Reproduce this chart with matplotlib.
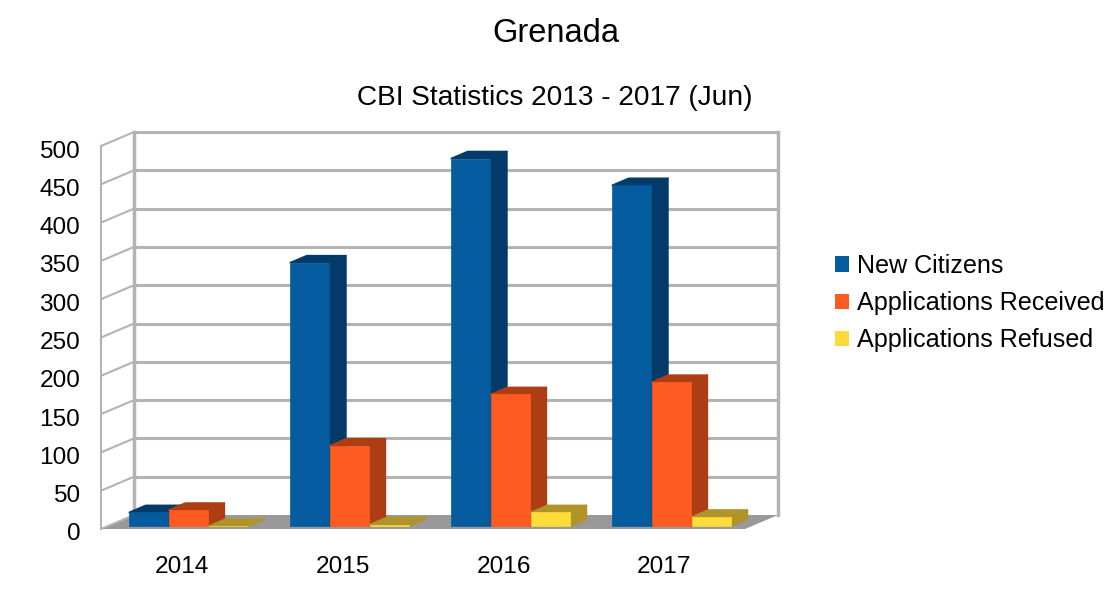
import matplotlib
matplotlib.use("Agg")
import matplotlib.pyplot as plt
from matplotlib.patches import Patch
from matplotlib.transforms import ScaledTranslation

plt.rcParams['font.family'] = ['Liberation Sans', 'DejaVu Sans']

years = ['2014', '2015', '2016', '2017']
new_citizens = [18, 344, 480, 445]
apps_received = [21, 105, 172, 188]
apps_refused = [0, 2, 18, 12]
series_names = ['New Citizens', 'Applications Received', 'Applications Refused']
y_ticks = list(range(0, 501, 50))

front_colors = ['#045c9e', '#ff5b20', '#ffdc38']
side_colors = ['#033a6a', '#ad3d12', '#b0942a']
legend_colors = ['#045c9e', '#ff5b20', '#ffd83a']
WALL = '#b3b3b3'
FLOOR = '#999999'

W, H = 1118, 612
fig = plt.figure(figsize=(W / 100, H / 100), dpi=100)
L, R, T, B = 101, 745, 146, 529
ax = fig.add_axes([L / W, 1 - B / H, (R - L) / W, (B - T) / H])
ax.set_xlim(0, 4)
ax.set_ylim(0, 500)
for s in ax.spines.values():
    s.set_visible(False)

px_x = 4 / (R - L)          # category units per pixel
px_y = 500 / (B - T)        # value units per pixel
DX, DY = 33 * px_x, 14 * px_y   # full depth of the chart box


def P(x, v, d):
    return x + d * DX, v + d * DY


# floor
fx, fy = zip(P(0, 0, 0), P(4, 0, 0), P(4, 0, 1), P(0, 0, 1))
ax.fill(fx, fy, color=FLOOR, lw=0, zorder=1, clip_on=False)

# gridlines on the back and side walls
for v in y_ticks:
    x0, y0 = P(0, v, 0)
    x1, y1 = P(0, v, 1)
    x2, y2 = P(4, v, 1)
    if v > 0:
        ax.plot([x1, x2], [y1, y2], color=WALL, lw=2.2, zorder=2, clip_on=False, solid_capstyle='butt')
    ax.plot([x0, x1], [y0, y1], color=WALL, lw=1.5, zorder=2, clip_on=False, solid_capstyle='butt')
# wall verticals
for x, d, lw in [(0, 0, 1.5), (0, 1, 2.5), (4, 1, 2.5)]:
    a, b = P(x, 0, d), P(x, 500, d)
    ax.plot([a[0], b[0]], [a[1], b[1]], color=WALL, lw=lw, zorder=2, clip_on=False, solid_capstyle='projecting')

# 3D bars
BW = 0.243
D0, D1 = 0.2, 0.7
z = 3
for c in range(len(years)):
    for i, vals in enumerate([new_citizens, apps_received, apps_refused]):
        v = vals[c]
        xl = c + 0.5 + (i - 1.5) * 0.245 + 0.002 + (0.004 if i == 2 else 0)
        xr = xl + BW
        # top face
        q = [P(xl, v, D0), P(xr, v, D0), P(xr, v, D1), P(xl, v, D1)]
        ax.fill(*zip(*q), facecolor=side_colors[i], edgecolor=side_colors[i], lw=1.2,
                joinstyle='round', zorder=z, clip_on=False)
        # side face
        q = [P(xr, 0, D0), P(xr, v, D0), P(xr, v, D1), P(xr, 0, D1)]
        ax.fill(*zip(*q), facecolor=side_colors[i], edgecolor=side_colors[i], lw=1.2,
                joinstyle='round', zorder=z, clip_on=False)
        # front face
        x0, y0 = P(xl, 0, D0)
        ax.bar(x0, v, width=BW, bottom=y0, align='edge', color=front_colors[i],
               edgecolor=front_colors[i], lw=0.5, zorder=z + 0.5, clip_on=False)
        z += 1

# axes text
ax.set_xticks([c + 0.5 for c in range(len(years))], years)
ax.set_yticks(y_ticks)
ax.tick_params(axis='both', length=0, labelsize=17.6, colors='black')
ax.tick_params(axis='x', pad=19.5)
ax.tick_params(axis='y', pad=15)
shift = ScaledTranslation(0, -3 / 100, fig.dpi_scale_trans)
for lab in ax.get_yticklabels():
    lab.set_transform(lab.get_transform() + shift)

fig.text(556 / W, 1 - 33 / H, 'Grenada', ha='center', va='center', fontsize=23.5)
fig.text(555 / W, 1 - 98 / H, 'CBI Statistics 2013 - 2017 (Jun)', ha='center', va='center', fontsize=20.2)

handles = [Patch(facecolor=c, edgecolor='none') for c in legend_colors]
fig.legend(handles, series_names, loc='center left',
           bbox_to_anchor=(825 / W, 1 - 303 / H), frameon=False, fontsize=18.05,
           handlelength=0.56, handleheight=0.56, handletextpad=0.33, labelspacing=0.52,
           borderpad=0.4, borderaxespad=0)

fig.savefig('out.png', dpi=100)
